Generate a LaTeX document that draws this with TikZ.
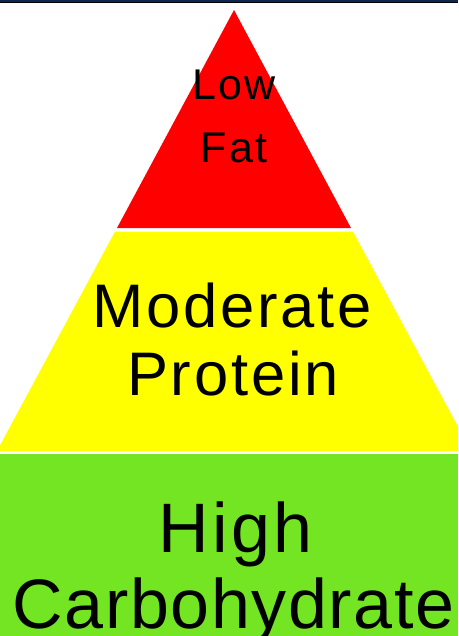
\documentclass[tikz,border=0pt]{standalone}
\usepackage{fontspec}
\setmainfont{Liberation Sans}
\definecolor{topnavy}{RGB}{12,40,80}
\definecolor{pyrred}{RGB}{255,0,0}
\definecolor{pyryellow}{RGB}{255,255,0}
\definecolor{pyrgreen}{RGB}{116,229,34}
\begin{document}
\begin{tikzpicture}[x=1pt,y=-1pt,
  lbl/.style={anchor=base,inner sep=0pt,text=black}]
\useasboundingbox (0,0) rectangle (458,636);
\fill[topnavy] (0,0) rectangle (458,2.3);
\fill[black] (0,2.3) rectangle (458,3.3);
\begin{scope}
\clip (0,0) rectangle (458,636);
\fill[pyrred] (234,10) -- (351,228) -- (117,228) -- cycle;
\fill[pyryellow] (115.1,231.5) -- (352.9,231.5) -- (471,451) -- (-3,451) -- cycle;
\fill[pyrgreen] (0,454) rectangle (458,636);
\end{scope}
\node[lbl,font={\fontsize{43}{43}\selectfont\addfontfeatures{LetterSpace=5}}] (low) at (234,100) {Low};
\node[lbl,font={\fontsize{43}{43}\selectfont\addfontfeatures{LetterSpace=5}}] (fat) at (234,163) {Fat};
\node[lbl,font={\fontsize{61.5}{61.5}\selectfont\addfontfeatures{LetterSpace=4.5}}] (moderate) at (232,327) {Moderate};
\node[lbl,font={\fontsize{61.5}{61.5}\selectfont\addfontfeatures{LetterSpace=4.5}}] (protein) at (233,395) {Protein};
\node[lbl,font={\fontsize{70}{70}\selectfont\addfontfeatures{LetterSpace=4.5}}] (high) at (235.5,552) {High};
\node[lbl,font={\fontsize{70}{70}\selectfont\addfontfeatures{LetterSpace=2.3}}] (carbo) at (233.5,628) {Carbohydrate};
\end{tikzpicture}
\end{document}
